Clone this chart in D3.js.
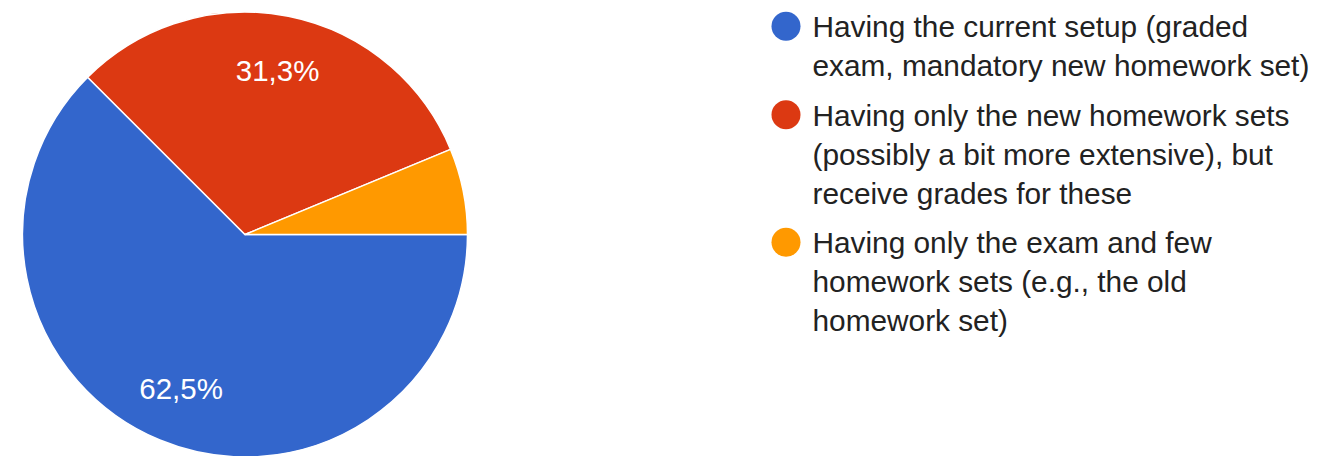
<!DOCTYPE html>
<html>
<head>
<meta charset="utf-8">
<script src="https://cdn.jsdelivr.net/npm/d3@7"></script>
<style>
  html, body { margin: 0; padding: 0; background: #fff; }
  svg { display: block; font-family: "Liberation Sans", Arial, sans-serif; }
</style>
</head>
<body>
<svg id="chart" width="1321" height="456"></svg>
<script>
// Survey answers and their shares (percent)
const categories = [
  "Having the current setup (graded exam, mandatory new homework set)",
  "Having only the new homework sets (possibly a bit more extensive), but receive grades for these",
  "Having only the exam and few homework sets (e.g., the old homework set)"
];
const legendLines = [
  ["Having the current setup (graded", "exam, mandatory new homework set)"],
  ["Having only the new homework sets", "(possibly a bit more extensive), but", "receive grades for these"],
  ["Having only the exam and few", "homework sets (e.g., the old", "homework set)"]
];
const values = [62.5, 31.25, 6.25];
const sliceLabels = ["62,5%", "31,3%", ""];
const colors = ["#3366cc", "#dc3912", "#ff9900"];

const svg = d3.select("#chart");
const cx = 245, cy = 234.5, radius = 222.5;

// Slices start at 3 o'clock and run clockwise
const pie = d3.pie().sort(null).value(d => d)
  .startAngle(Math.PI / 2).endAngle(Math.PI / 2 + 2 * Math.PI);
const arcs = pie(values);
const arc = d3.arc().innerRadius(0).outerRadius(radius);
const labelArc = d3.arc().innerRadius(radius * 0.75).outerRadius(radius * 0.75);

const g = svg.append("g").attr("transform", `translate(${cx},${cy})`);
g.selectAll("path.slice").data(arcs).join("path")
  .attr("class", "slice")
  .attr("d", arc)
  .attr("fill", (d, i) => colors[i])
  .attr("stroke", "#fff")
  .attr("stroke-width", 1.5)
  .attr("stroke-linejoin", "round");

g.selectAll("text.pct").data(arcs).join("text")
  .attr("class", "pct")
  .attr("transform", d => `translate(${labelArc.centroid(d)})`)
  .attr("text-anchor", "middle")
  .attr("dominant-baseline", "central")
  .attr("fill", "#fff")
  .attr("font-size", 29.5)
  .text((d, i) => sliceLabels[i]);

// Legend: a dot per answer, wrapped label lines beside it
const legendX = 786, textX = 812.5, lineH = 39, itemGap = 10.5, fontSize = 29.8;
let baseline = 37;
const legend = svg.append("g");
categories.forEach((c, i) => {
  const item = legend.append("g").attr("class", "legend-item");
  item.append("circle")
    .attr("cx", legendX).attr("cy", baseline - 10.7).attr("r", 14.5)
    .attr("fill", colors[i]);
  const t = item.append("text")
    .attr("x", textX).attr("y", baseline)
    .attr("fill", "#222")
    .attr("font-size", fontSize);
  legendLines[i].forEach((line, j) => {
    t.append("tspan").attr("x", textX).attr("dy", j === 0 ? 0 : lineH).text(line);
  });
  baseline += legendLines[i].length * lineH + itemGap;
});
</script>
</body>
</html>
